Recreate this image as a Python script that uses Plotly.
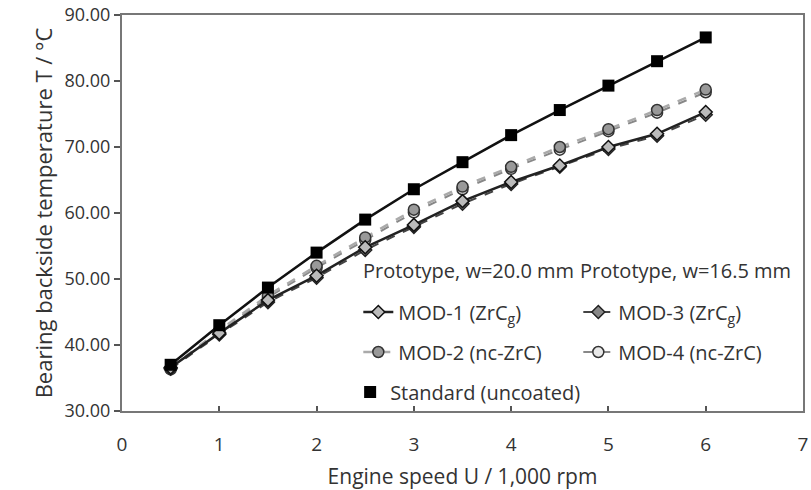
import plotly.graph_objects as go

speed = [0.5, 1, 1.5, 2, 2.5, 3, 3.5, 4, 4.5, 5, 5.5, 6]
standard = [37.0, 43.0, 48.7, 54.0, 59.0, 63.6, 67.7, 71.8, 75.6, 79.3, 83.0, 86.6]
mod1 = [36.6, 41.8, 46.8, 50.5, 54.8, 58.2, 61.8, 64.7, 67.2, 70.0, 72.0, 75.3]
mod3 = [36.4, 41.6, 46.5, 50.2, 54.4, 57.9, 61.4, 64.4, 67.0, 69.7, 71.7, 74.9]
mod2 = [36.5, 42.2, 47.5, 52.0, 56.3, 60.5, 64.0, 67.0, 70.0, 72.7, 75.6, 78.7]
mod4 = [36.3, 42.0, 47.2, 51.7, 55.9, 60.1, 63.6, 66.7, 69.6, 72.4, 75.2, 78.3]

FONT = "Open Sans"
TXT = "#333"

fig = go.Figure()

fig.add_trace(go.Scatter(x=speed, y=standard, mode="lines", line=dict(color="#111", width=2.5),
                         showlegend=False, hoverinfo="skip"))
fig.add_trace(go.Scatter(x=speed, y=mod4, mode="lines+markers", name="MOD-4 (nc-ZrC)",
                         line=dict(color="#888", width=2, dash="dash"),
                         marker=dict(symbol="circle", size=11, color="#e8e8e8", line=dict(color="#333", width=1.5)),
                         legend="legend2", legendrank=2))
fig.add_trace(go.Scatter(x=speed, y=mod2, mode="lines+markers", name="MOD-2 (nc-ZrC)",
                         line=dict(color="#aaa", width=2.5, dash="dash"),
                         marker=dict(symbol="circle", size=11, color="#999", line=dict(color="#333", width=1.5)),
                         legend="legend2", legendrank=1))
fig.add_trace(go.Scatter(x=speed, y=mod3, mode="lines+markers", name="MOD-3 (ZrC<sub>g</sub>)",
                         line=dict(color="#444", width=2, dash="dash"),
                         marker=dict(symbol="diamond", size=10, color="#888", line=dict(color="#222", width=1.5)),
                         legend="legend", legendrank=2))
fig.add_trace(go.Scatter(x=speed, y=mod1, mode="lines+markers", name="MOD-1 (ZrC<sub>g</sub>)",
                         line=dict(color="#222", width=2.5),
                         marker=dict(symbol="diamond", size=10, color="#bbb", line=dict(color="#111", width=1.5)),
                         legend="legend", legendrank=1))
fig.add_trace(go.Scatter(x=speed, y=standard, mode="markers", name="Standard (uncoated)",
                         marker=dict(symbol="square", size=12, color="#000"),
                         legend="legend3"))

leg_common = dict(orientation="h", xanchor="left", yanchor="middle",
                  font=dict(family=FONT, size=20, color=TXT), bgcolor="rgba(0,0,0,0)",
                  traceorder="normal")
fig.update_layout(
    legend=dict(x=0.347, y=0.25, entrywidth=175, **leg_common),
    legend2=dict(x=0.347, y=0.149, entrywidth=175, **leg_common),
    legend3=dict(x=0.335, y=0.048, entrywidth=260, **leg_common),
)

for xpos, label in [(0.351, "Prototype, w=20.0 mm"), (0.67, "Prototype, w=16.5 mm")]:
    fig.add_annotation(x=xpos, y=0.356, xref="paper", yref="paper", xanchor="left", yanchor="middle",
                       text=label, showarrow=False, font=dict(family=FONT, size=20, color=TXT))

fig.update_layout(
    width=811, height=490,
    margin=dict(l=122, r=8, t=15, b=79),
    plot_bgcolor="white", paper_bgcolor="white",
    font=dict(family=FONT, size=16, color=TXT),
    xaxis=dict(range=[0, 7], dtick=1, tick0=0, showgrid=False, zeroline=False, automargin=False,
               showline=True, linecolor="#777", linewidth=2, mirror=True,
               ticks="inside", ticklen=5, tickcolor="#555", tickwidth=1.5,
               ticklabelstandoff=15,
               tickfont=dict(family=FONT, size=19, color=TXT),
               title=dict(text="Engine speed U / 1,000 rpm", font=dict(family=FONT, size=21, color=TXT), standoff=14)),
    yaxis=dict(range=[30, 90], dtick=10, tick0=30, tickformat=".2f", showgrid=False, zeroline=False, automargin=False,
               showline=True, linecolor="#777", linewidth=2, mirror=True,
               ticks="outside", ticklen=6, tickcolor="#555", tickwidth=1.5,
               tickfont=dict(family=FONT, size=18, color=TXT),
               title=dict(text="Bearing backside temperature T / °C", font=dict(family=FONT, size=22, color=TXT), standoff=6)),
)

fig.write_html("out.html")
